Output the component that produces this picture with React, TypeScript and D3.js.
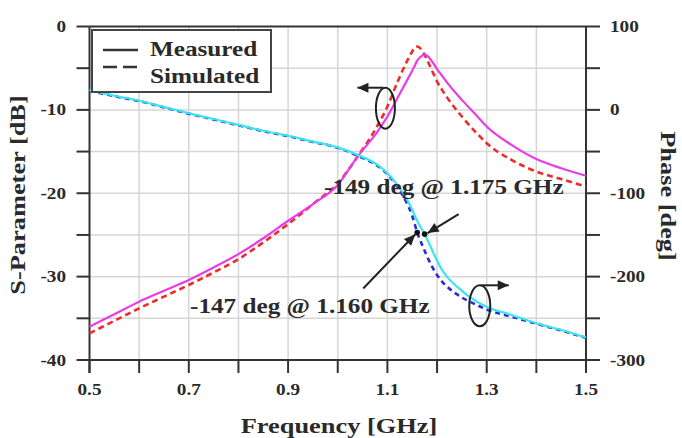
import React from 'react';
import * as d3 from 'd3';

// frequency samples [GHz]
const freqs = [0.5, 0.55, 0.6, 0.65, 0.7, 0.75, 0.8, 0.85, 0.9, 0.95, 1.0, 1.04, 1.08, 1.1, 1.12, 1.14, 1.15, 1.155, 1.16, 1.17, 1.175, 1.18, 1.19, 1.2, 1.21, 1.22, 1.25, 1.28, 1.3, 1.35, 1.4, 1.45, 1.5];

// magnitude [dB]
const magMeasured = [-36.0, -34.5, -33.0, -31.7, -30.4, -28.9, -27.3, -25.4, -23.3, -21.3, -19.0, -15.6, -12.6, -10.8, -8.6, -6.4, -5.3, -4.7, -4.1, -3.5, -3.35, -3.5, -4.2, -5.1, -5.9, -6.7, -8.8, -10.7, -12.0, -14.2, -15.9, -17.0, -17.9];
const magSimulated = [-36.8, -35.3, -33.8, -32.4, -31.0, -29.5, -27.9, -25.9, -23.7, -21.3, -18.8, -15.6, -11.9, -9.6, -6.7, -4.1, -3.0, -2.5, -2.4, -2.9, -3.4, -4.0, -5.3, -6.6, -7.6, -8.5, -10.8, -12.8, -14.0, -16.0, -17.4, -18.3, -19.2];

// phase [deg]
const phaseMeasured = [24, 17, 11, 3.5, -4, -11, -18, -25, -31, -38, -45, -54, -66, -76, -90, -108, -120, -127, -133, -144, -149, -155, -168, -181, -192, -200, -217, -230, -236, -246, -256, -264, -273];
const phaseSimulated = [23, 16.5, 10.5, 3, -4.5, -11.5, -18.5, -25.5, -31.5, -38.5, -45.5, -55, -67, -77, -92, -113, -127, -137, -147, -162, -169, -176, -188, -198, -206, -212, -225, -234, -239.5, -248, -256.5, -264.5, -273.5];

const xTicks = [0.5, 0.7, 0.9, 1.1, 1.3, 1.5];
const dbTicks = [0, -10, -20, -30, -40];
const degTicks = [100, 0, -100, -200, -300];

// marked phase points
const simMark = { f: 1.16, deg: -147 };
const measMark = { f: 1.175, deg: -149 };

const W = 682;
const H = 438;
const L = 89.5, R = 586, T = 26.5, B = 360;
const FONT = '"Liberation Serif", "Times New Roman", serif';
const SX = 1.2;

const x = d3.scaleLinear().domain([0.5, 1.5]).range([L, R]);
const yDb = d3.scaleLinear().domain([-40, 0]).range([B, T]);
const yDeg = d3.scaleLinear().domain([-300, 100]).range([B, T]);

const magLine = d3.line<number>()
  .x((_, i) => x(freqs[i]))
  .y(d => yDb(d))
  .curve(d3.curveMonotoneX);
const phaseLine = d3.line<number>()
  .x((_, i) => x(freqs[i]))
  .y(d => yDeg(d))
  .curve(d3.curveMonotoneX);

const Txt = ({ x: tx, y: ty, rot = 0, size, anchor = 'start', children }: any) => (
  <text
    transform={`translate(${tx},${ty}) rotate(${rot}) scale(${SX},1)`}
    fontFamily={FONT}
    fontWeight="bold"
    fontSize={size}
    textAnchor={anchor}
    fill="#2a2a2a"
  >
    {children}
  </text>
);

const arrowHead = (x1: number, y1: number, x2: number, y2: number, len = 11, half = 5) => {
  const a = Math.atan2(y2 - y1, x2 - x1);
  const bx = x2 - len * Math.cos(a);
  const by = y2 - len * Math.sin(a);
  const px = -Math.sin(a) * half;
  const py = Math.cos(a) * half;
  return `M${x2},${y2}L${bx + px},${by + py}L${bx - px},${by - py}Z`;
};

const Arrow = ({ x1, y1, x2, y2 }: any) => (
  <g>
    <line x1={x1} y1={y1} x2={x2} y2={y2} stroke="#222" strokeWidth={2} />
    <path d={arrowHead(x1, y1, x2, y2)} fill="#222" />
  </g>
);

export default function App() {
  const gridX = d3.range(6, 15).map(v => v / 10);
  const gridY = d3.range(-35, 0, 5);
  const minorDb = d3.range(-40, 1, 5);

  const simPt = { x: x(simMark.f), y: yDeg(simMark.deg) };
  const measPt = { x: x(measMark.f), y: yDeg(measMark.deg) };

  // loop markers grouping each curve pair with its axis
  const loopL = { cx: x(1.096), cy: yDb(-9.8), rx: 9.5, ry: 20.5 };
  const loopR = { cx: x(1.286), cy: yDeg(-235), rx: 10.5, ry: 20.5 };

  return (
    <div style={{ position: 'absolute', left: 0, top: 0 }}>
      <svg width={W} height={H} style={{ display: 'block', background: '#fff' }}>
        {/* grid */}
        {gridX.map(v => (
          <line key={`gx${v}`} x1={x(v)} x2={x(v)} y1={T} y2={B} stroke="#d6d6d6" strokeWidth={1.5} />
        ))}
        {gridY.map(v => (
          <line key={`gy${v}`} x1={L} x2={R} y1={yDb(v)} y2={yDb(v)} stroke="#d6d6d6" strokeWidth={1.5} />
        ))}

        {/* frame + ticks */}
        <line x1={L} x2={L} y1={T} y2={B + 13} stroke="#333" strokeWidth={2} />
        <line x1={R} x2={R} y1={T} y2={B + 13} stroke="#333" strokeWidth={2} />
        {minorDb.map(v => (
          <g key={`t${v}`}>
            <line x1={L - 13} x2={L} y1={yDb(v)} y2={yDb(v)} stroke="#333" strokeWidth={2} />
            <line x1={R} x2={R + 14} y1={yDb(v)} y2={yDb(v)} stroke="#333" strokeWidth={2} />
          </g>
        ))}
        <line x1={L} x2={R} y1={T} y2={T} stroke="#333" strokeWidth={2} />
        <line x1={L} x2={R} y1={B} y2={B} stroke="#333" strokeWidth={2} />
        {d3.range(5, 16).map(v => v / 10).map(v => (
          <line key={`bt${v}`} x1={x(v)} x2={x(v)} y1={B} y2={B + 13} stroke="#333" strokeWidth={2} />
        ))}

        {/* tick labels */}
        {dbTicks.map(v => (
          <Txt key={`dl${v}`} x={66} y={yDb(v) + 5.5} size={16} anchor="end">{v}</Txt>
        ))}
        {degTicks.map(v => (
          <Txt key={`pl${v}`} x={610} y={yDeg(v) + 5.5} size={16}>{v}</Txt>
        ))}
        {xTicks.map(v => (
          <Txt key={`xl${v}`} x={x(v)} y={395} size={16} anchor="middle">{v.toFixed(1)}</Txt>
        ))}

        {/* axis titles */}
        <Txt x={339} y={433} size={22} anchor="middle">Frequency [GHz]</Txt>
        <Txt x={25} y={195} rot={-90} size={22} anchor="middle">S-Parameter [dB]</Txt>
        <Txt x={661} y={196} rot={90} size={22} anchor="middle">Phase [deg]</Txt>

        {/* curves */}
        <path d={magLine(magSimulated) || ''} fill="none" stroke="#f02a2a" strokeWidth={2.6} strokeDasharray="6 4" />
        <path d={magLine(magMeasured) || ''} fill="none" stroke="#e83ce8" strokeWidth={2.2} />
        <path d={phaseLine(phaseSimulated) || ''} fill="none" stroke="#2a2ad8" strokeWidth={2.6} strokeDasharray="5 4" />
        <path d={phaseLine(phaseMeasured) || ''} fill="none" stroke="#38e6ee" strokeWidth={2.2} />

        {/* loops with direction arrows */}
        <ellipse cx={loopL.cx} cy={loopL.cy} rx={loopL.rx} ry={loopL.ry} fill="none" stroke="#222" strokeWidth={2} />
        <Arrow x1={loopL.cx - 2} y1={loopL.cy - loopL.ry} x2={loopL.cx - 28} y2={loopL.cy - loopL.ry} />
        <ellipse cx={loopR.cx} cy={loopR.cy} rx={loopR.rx} ry={loopR.ry} fill="none" stroke="#222" strokeWidth={2} />
        <Arrow x1={loopR.cx + 1} y1={loopR.cy - loopR.ry} x2={loopR.cx + 29} y2={loopR.cy - loopR.ry} />

        {/* marked points */}
        <Arrow x1={simPt.x - 54} y1={simPt.y + 56} x2={simPt.x - 2} y2={simPt.y + 2} />
        <Arrow x1={measPt.x + 34} y1={measPt.y - 20} x2={measPt.x + 3} y2={measPt.y - 1} />
        <circle cx={simPt.x} cy={simPt.y} r={2.8} fill="#111" />
        <circle cx={measPt.x} cy={measPt.y} r={2.8} fill="#111" />
        <Txt x={324} y={194} size={21}>{`${measMark.deg} deg @ ${measMark.f.toFixed(3)} GHz`}</Txt>
        <Txt x={190} y={313} size={21}>{`${simMark.deg} deg @ ${simMark.f.toFixed(3)} GHz`}</Txt>

        {/* legend */}
        <rect x={92} y={30} width={179} height={62} fill="#fff" stroke="#444" strokeWidth={2} />
        <line x1={103} x2={138} y1={50} y2={50} stroke="#333" strokeWidth={2.5} />
        <line x1={103} x2={138} y1={67} y2={67} stroke="#333" strokeWidth={2.5} strokeDasharray="14 6" />
        <Txt x={150} y={56} size={21}>Measured</Txt>
        <Txt x={150} y={83} size={21}>Simulated</Txt>
      </svg>
    </div>
  );
}
